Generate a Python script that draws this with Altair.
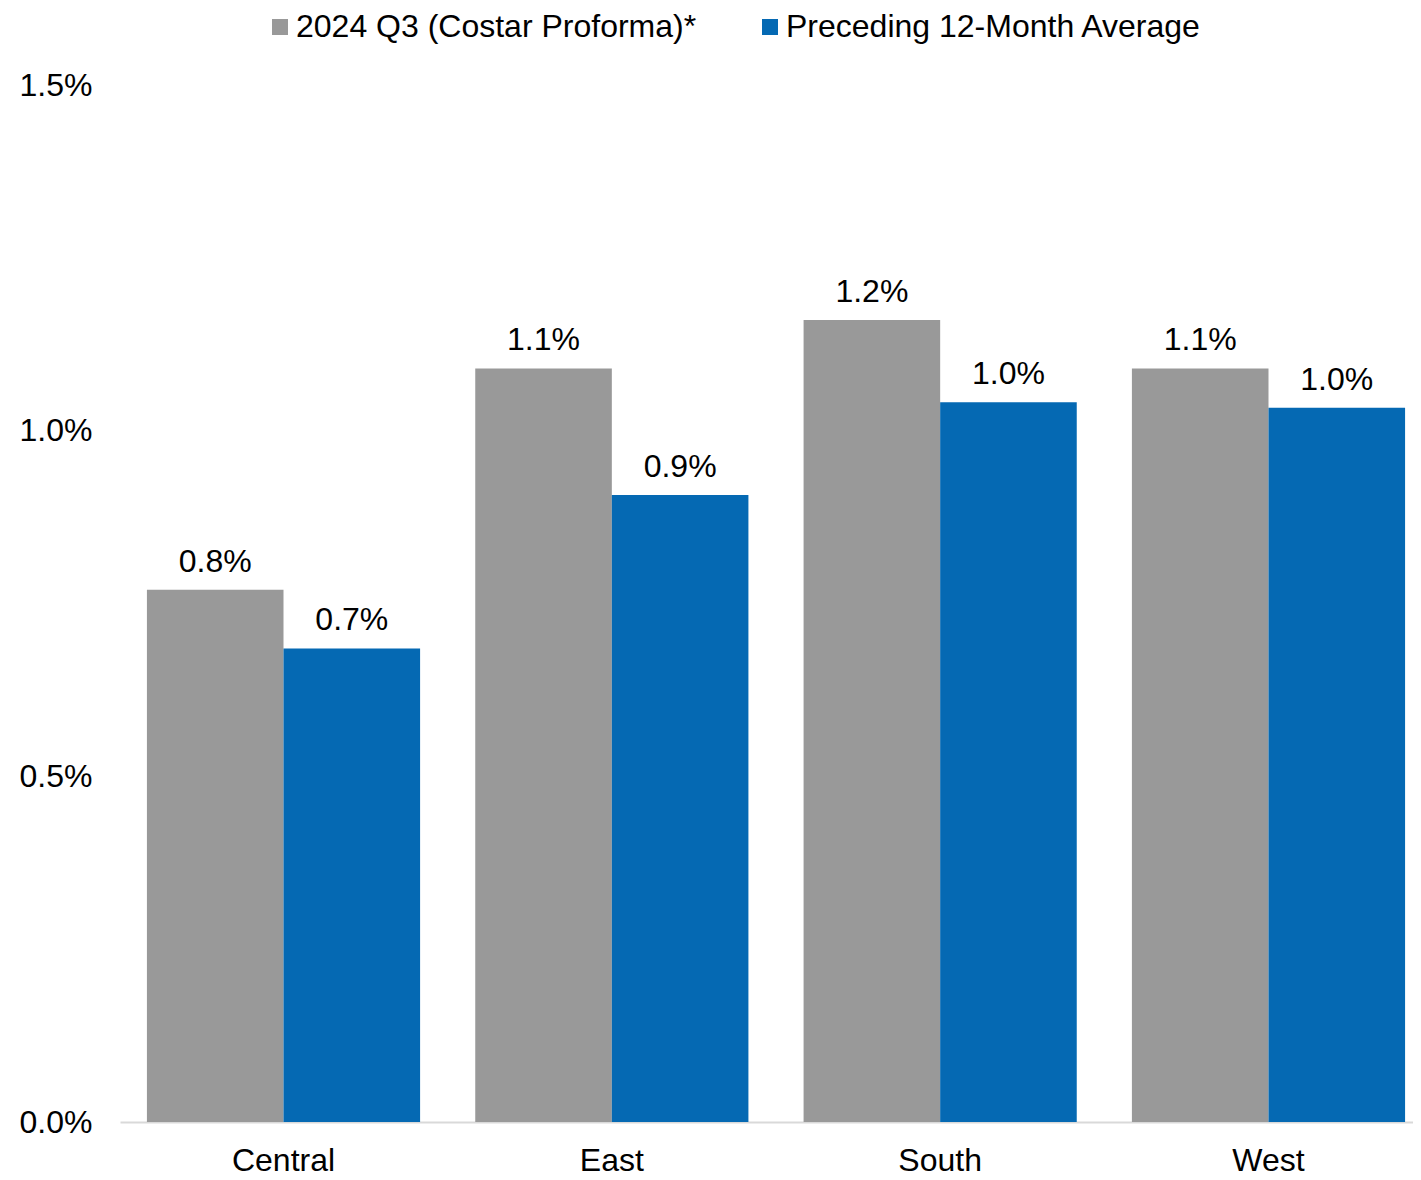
import altair as alt
import pandas as pd

regions = ["Central", "East", "South", "West"]
series = ["2024 Q3 (Costar Proforma)*", "Preceding 12-Month Average"]
q3_values = [0.0077, 0.0109, 0.0116, 0.0109]
avg_values = [0.00685, 0.00907, 0.01041, 0.01033]
y_ticks = [0, 0.005, 0.01, 0.015]
colors = ["#999999", "#0569B3"]

rows = []
for r, a, b in zip(regions, q3_values, avg_values):
    rows.append({"region": r, "series": series[0], "value": a})
    rows.append({"region": r, "series": series[1], "value": b})
df = pd.DataFrame(rows)

FONT = "Liberation Sans"
FS = 32

base = alt.Chart(df).encode(
    x=alt.X(
        "region:N",
        sort=regions,
        title=None,
        scale=alt.Scale(range=[0, 1312], paddingInner=0.168, paddingOuter=0.082),
        axis=alt.Axis(
            labelAngle=0,
            labelFontSize=FS,
            labelFont=FONT,
            labelColor="#000000",
            labelPadding=23,
            ticks=False,
            tickSize=0,
            domainColor="#D9D9D9",
            domainWidth=2,
            grid=False,
        ),
    ),
    xOffset=alt.XOffset("series:N", sort=series, scale=alt.Scale(paddingInner=0, paddingOuter=0)),
    y=alt.Y(
        "value:Q",
        title=None,
        scale=alt.Scale(domain=[0, 0.015], nice=False),
        axis=alt.Axis(
            values=y_ticks,
            format=".1%",
            labelFontSize=FS,
            labelFont=FONT,
            labelColor="#000000",
            labelAlign="left",
            labelPadding=101,
            ticks=False,
            tickSize=0,
            domain=False,
            grid=False,
        ),
    ),
)

bars = base.mark_bar().encode(
    color=alt.Color(
        "series:N",
        sort=series,
        scale=alt.Scale(domain=series, range=colors),
        legend=alt.Legend(
            title=None,
            orient="none",
            legendX=144,
            legendY=-74,
            direction="horizontal",
            symbolType="square",
            symbolSize=256,
            symbolStrokeWidth=0,
            symbolOpacity=1,
            labelFontSize=FS,
            labelFont=FONT,
            labelColor="#000000",
            labelOffset=0,
            labelLimit=0,
            columnPadding=57,
            padding=0,
        ),
    )
)

text = base.mark_text(
    baseline="alphabetic", dy=-18, fontSize=FS, font=FONT, color="#000000"
).encode(text=alt.Text("value:Q", format=".1%"))

chart = (
    alt.layer(bars, text)
    .properties(
        width=1293,
        height=1037,
        autosize=alt.AutoSizeParams(type="none"),
        padding={"left": 112, "top": 77, "right": 0, "bottom": 60},
        background="#FFFFFF",
    )
    .configure_view(strokeWidth=0, stroke="transparent")
)

chart.save("out.html", embed_options={"renderer": "svg", "actions": False})
